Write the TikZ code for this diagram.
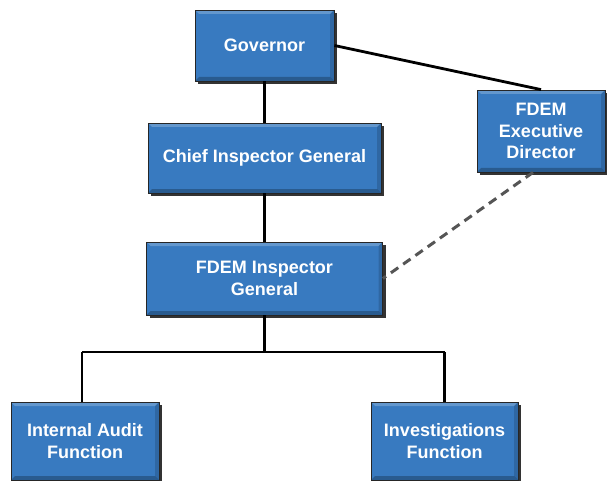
\documentclass[tikz,border=0pt]{standalone}
\usepackage{fontspec}
\setmainfont{Liberation Sans}
\usetikzlibrary{shadows}
\definecolor{boxblue}{RGB}{56,122,192}
\definecolor{dashgray}{RGB}{85,85,85}
\tikzset{
  orgbox/.style={rectangle, draw=black!85, line width=0.8pt, fill=boxblue,
    text=white, font=\fontsize{18}{21.5}\selectfont\bfseries, align=center,
    inner sep=2pt,
    drop shadow={shadow xshift=3pt, shadow yshift=-3pt, fill=black!80, opacity=1},
    path picture={
      \fill[white,opacity=0.22] (path picture bounding box.north west) -- (path picture bounding box.north east)
        -- ([xshift=-4pt,yshift=-4pt]path picture bounding box.north east) -- ([xshift=4pt,yshift=-4pt]path picture bounding box.north west) -- cycle;
      \fill[black,opacity=0.25] (path picture bounding box.south west) -- (path picture bounding box.south east)
        -- ([xshift=-4pt,yshift=4pt]path picture bounding box.south east) -- ([xshift=4pt,yshift=4pt]path picture bounding box.south west) -- cycle;
      \fill[black,opacity=0.15] (path picture bounding box.north east) -- (path picture bounding box.south east)
        -- ([xshift=-4pt,yshift=4pt]path picture bounding box.south east) -- ([xshift=-4pt,yshift=-4pt]path picture bounding box.north east) -- cycle;
    }},
  link/.style={draw=black, line width=2.8pt},
  dlink/.style={draw=dashgray, line width=3pt, dash pattern=on 9pt off 6pt}
}
\begin{document}
\begin{tikzpicture}[x=1pt,y=-1pt]
\useasboundingbox[fill=white] (0,0) rectangle (607,481);
\node[orgbox, minimum width=139pt, minimum height=71pt] (gov) at (264.5,45.5) {Governor};
\node[orgbox, minimum width=233pt, minimum height=70pt] (chief) at (264.5,158) {Chief Inspector General};
\node[orgbox, minimum width=236pt, minimum height=73pt] (fig) at (264.5,278.5) {FDEM Inspector\\General};
\node[orgbox, minimum width=128pt, minimum height=82pt] (exec) at (541,131) {FDEM\\Executive\\Director};
\node[orgbox, minimum width=148pt, minimum height=78pt] (ia) at (85,441) {Internal Audit\\Function};
\node[orgbox, minimum width=147pt, minimum height=78pt] (inv) at (444.5,441) {Investigations\\Function};
\coordinate (bus) at (264.5,352);
\draw[link] (gov.south) -- (chief.north);
\draw[link] (chief.south) -- (fig.north);
\draw[link] (fig.south) -- (bus);
\draw[link] ([xshift=-3pt]ia.north |- bus) -- (inv.north |- bus);
\draw[link] ([xshift=-3pt]ia.north |- bus) -- ([xshift=-3pt]ia.north);
\draw[link] (inv.north |- bus) -- (inv.north);
\draw[link] (gov.east) -- (exec.north);
\draw[dlink] ([xshift=-8pt]exec.south) -- (fig.east);
\end{tikzpicture}
\end{document}
